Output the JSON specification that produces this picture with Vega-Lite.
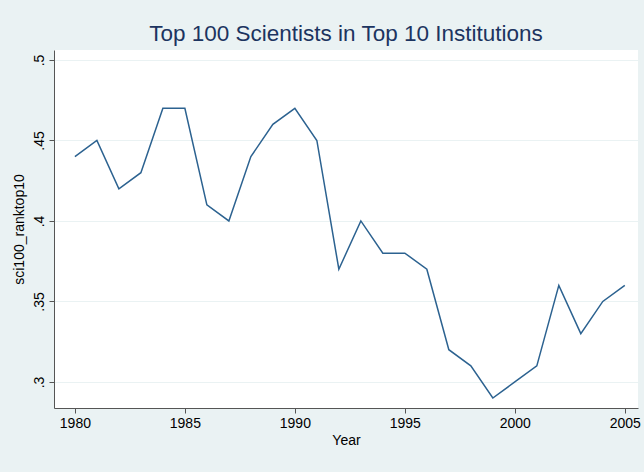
{
  "$schema": "https://vega.github.io/schema/vega-lite/v6.json",
  "autosize": "none",
  "width": 584,
  "height": 358,
  "padding": {"left": 54, "top": 50, "right": 6, "bottom": 64},
  "background": "#EAF2F3",
  "title": {
    "text": "Top 100 Scientists in Top 10 Institutions",
    "font": "Liberation Sans",
    "fontSize": 22.5,
    "fontWeight": "normal",
    "color": "#1c3460",
    "anchor": "middle",
    "offset": -13,
    "baseline": "alphabetic"
  },
  "config": {
    "view": {"fill": "white", "stroke": null},
    "axis": {
      "labelFont": "Liberation Sans",
      "titleFont": "Liberation Sans",
      "labelFontSize": 14,
      "titleFontSize": 14,
      "labelColor": "#000000",
      "titleColor": "#000000",
      "titleFontWeight": "normal",
      "domainColor": "#555555",
      "tickColor": "#555555",
      "tickSize": 5
    }
  },
  "data": {
    "values": [
      {"Year": 1980, "v": 0.44},
      {"Year": 1981, "v": 0.45},
      {"Year": 1982, "v": 0.42},
      {"Year": 1983, "v": 0.43},
      {"Year": 1984, "v": 0.47},
      {"Year": 1985, "v": 0.47},
      {"Year": 1986, "v": 0.41},
      {"Year": 1987, "v": 0.40},
      {"Year": 1988, "v": 0.44},
      {"Year": 1989, "v": 0.46},
      {"Year": 1990, "v": 0.47},
      {"Year": 1991, "v": 0.45},
      {"Year": 1992, "v": 0.37},
      {"Year": 1993, "v": 0.40},
      {"Year": 1994, "v": 0.38},
      {"Year": 1995, "v": 0.38},
      {"Year": 1996, "v": 0.37},
      {"Year": 1997, "v": 0.32},
      {"Year": 1998, "v": 0.31},
      {"Year": 1999, "v": 0.29},
      {"Year": 2000, "v": 0.30},
      {"Year": 2001, "v": 0.31},
      {"Year": 2002, "v": 0.36},
      {"Year": 2003, "v": 0.33},
      {"Year": 2004, "v": 0.35},
      {"Year": 2005, "v": 0.36}
    ]
  },
  "mark": {"type": "line", "color": "#2c6290", "strokeWidth": 1.5},
  "encoding": {
    "x": {
      "field": "Year",
      "type": "quantitative",
      "scale": {"domain": [1979.05, 2005.6], "nice": false, "zero": false},
      "axis": {
        "values": [1980, 1985, 1990, 1995, 2000, 2005],
        "format": "d",
        "grid": false,
        "title": "Year",
        "labelPadding": 3,
        "titlePadding": 3
      }
    },
    "y": {
      "field": "v",
      "type": "quantitative",
      "scale": {"domain": [0.2838, 0.5062], "nice": false, "zero": false},
      "axis": {
        "values": [0.3, 0.35, 0.4, 0.45, 0.5],
        "labelExpr": "replace(format(datum.value, '.2~f'), '0.', '.')",
        "labelAngle": -90,
        "labelAlign": "center",
        "labelBaseline": "bottom",
        "labelPadding": 3,
        "grid": true,
        "gridColor": "#EAF2F3",
        "gridWidth": 1.2,
        "title": "sci100_ranktop10",
        "titlePadding": 6
      }
    }
  }
}
